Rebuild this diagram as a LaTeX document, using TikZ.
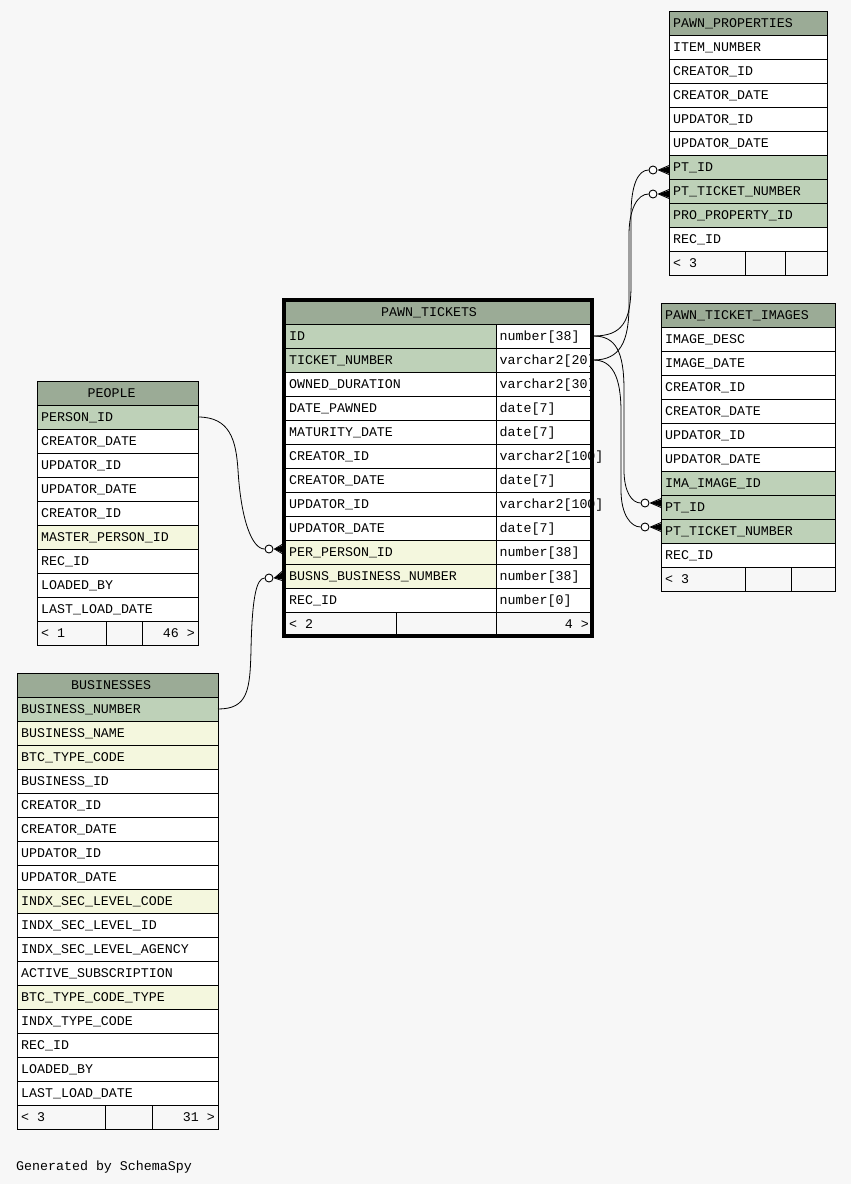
\documentclass[tikz,border=0pt]{standalone}
\usepackage{fontspec}
\usetikzlibrary{calc}
\newfontfamily\erdfont{Liberation Mono}
\definecolor{bgc}{HTML}{F7F7F7}
\definecolor{headc}{HTML}{9BAB96}
\definecolor{pkc}{HTML}{BED1B8}
\definecolor{idxc}{HTML}{F4F7DE}
\definecolor{whc}{HTML}{FFFFFF}
\newcommand\tcellx[7]{%
  \draw[gridline,fill=#5] (#2,#4) rectangle (#3,{#4+24});
  \node[txt] (#1) at ({#2+#7},{#4+16.6}) {#6};}
\newcommand\tcell[6]{\tcellx{#1}{#2}{#3}{#4}{#5}{#6}{4}}
\newcommand\crowfoot[2]{%
  \fill ($(#1.east)+(1,0)$) -- ($(#2)+(0,-3.5)$) -- ($(#2)+(0,3.5)$) -- cycle;
  \draw[conn] ($(#1.east)+(1,0)$) -- ($(#2)+(0,-4.5)$);
  \draw[conn] ($(#1.east)+(1,0)$) -- ($(#2)+(0,4.5)$);}
\begin{document}
\begin{tikzpicture}[x=1pt,y=-1pt,
  gridline/.style={draw=black,line width=1pt},
  txt/.style={anchor=base west,inner sep=0pt,font=\erdfont\fontsize{13.3}{15}\selectfont},
  txtr/.style={anchor=base east,inner sep=0pt,font=\erdfont\fontsize{13.3}{15}\selectfont},
  conn/.style={draw=black,line width=0.8pt},
  odot/.style={circle,draw=black,fill=white,line width=0.9pt,minimum size=8pt,inner sep=0pt}]
\useasboundingbox[fill=bgc] (0,0) rectangle (851,1184);

% ---------------- PAWN_PROPERTIES ----------------
\draw[gridline,fill=headc] (669,11) rectangle (827,35);
\node[txt] (pp-h) at (673,27.6) {PAWN\_PROPERTIES};
\foreach [count=\i from 0] \f/\t in {whc/ITEM\_NUMBER,whc/CREATOR\_ID,whc/CREATOR\_DATE,whc/UPDATOR\_ID,whc/UPDATOR\_DATE,pkc/PT\_ID,pkc/PT\_TICKET\_NUMBER,pkc/PRO\_PROPERTY\_ID,whc/REC\_ID}
  {\tcell{pp-\i}{669}{827}{35+24*\i}{\f}{\t}}
\draw[gridline,fill=bgc] (669,251) rectangle (745,275);
\draw[gridline,fill=bgc] (745,251) rectangle (785,275);
\draw[gridline,fill=bgc] (785,251) rectangle (827,275);
\node[txt] (pp-f) at (673,267.6) {< 3};

% ---------------- PAWN_TICKET_IMAGES ----------------
\draw[gridline,fill=headc] (661,303) rectangle (835,327);
\node[txt] (pti-h) at (665,319.6) {PAWN\_TICKET\_IMAGES};
\foreach [count=\i from 0] \f/\t in {whc/IMAGE\_DESC,whc/IMAGE\_DATE,whc/CREATOR\_ID,whc/CREATOR\_DATE,whc/UPDATOR\_ID,whc/UPDATOR\_DATE,pkc/IMA\_IMAGE\_ID,pkc/PT\_ID,pkc/PT\_TICKET\_NUMBER,whc/REC\_ID}
  {\tcell{pti-\i}{661}{835}{327+24*\i}{\f}{\t}}
\draw[gridline,fill=bgc] (661,567) rectangle (745,591);
\draw[gridline,fill=bgc] (745,567) rectangle (791,591);
\draw[gridline,fill=bgc] (791,567) rectangle (835,591);
\node[txt] (pti-f) at (665,583.6) {< 3};

% ---------------- PEOPLE ----------------
\draw[gridline,fill=headc] (37,381) rectangle (198,405);
\node[txt] (pe-h) at (87.5,397.6) {PEOPLE};
\foreach [count=\i from 0] \f/\t in {pkc/PERSON\_ID,whc/CREATOR\_DATE,whc/UPDATOR\_ID,whc/UPDATOR\_DATE,whc/CREATOR\_ID,idxc/MASTER\_PERSON\_ID,whc/REC\_ID,whc/LOADED\_BY,whc/LAST\_LOAD\_DATE}
  {\tcell{pe-\i}{37}{198}{405+24*\i}{\f}{\t}}
\draw[gridline,fill=bgc] (37,621) rectangle (106,645);
\draw[gridline,fill=bgc] (106,621) rectangle (142,645);
\draw[gridline,fill=bgc] (142,621) rectangle (198,645);
\node[txt] (pe-f1) at (41,637.6) {< 1};
\node[txtr] (pe-f2) at (195,637.6) {46 >};

% ---------------- BUSINESSES ----------------
\draw[gridline,fill=headc] (17,673) rectangle (218,697);
\node[txt] (bu-h) at (71,689.6) {BUSINESSES};
\foreach [count=\i from 0] \f/\t in {pkc/BUSINESS\_NUMBER,idxc/BUSINESS\_NAME,idxc/BTC\_TYPE\_CODE,whc/BUSINESS\_ID,whc/CREATOR\_ID,whc/CREATOR\_DATE,whc/UPDATOR\_ID,whc/UPDATOR\_DATE,idxc/INDX\_SEC\_LEVEL\_CODE,whc/INDX\_SEC\_LEVEL\_ID,whc/INDX\_SEC\_LEVEL\_AGENCY,whc/ACTIVE\_SUBSCRIPTION,idxc/BTC\_TYPE\_CODE\_TYPE,whc/INDX\_TYPE\_CODE,whc/REC\_ID,whc/LOADED\_BY,whc/LAST\_LOAD\_DATE}
  {\tcell{bu-\i}{17}{218}{697+24*\i}{\f}{\t}}
\draw[gridline,fill=bgc] (17,1105) rectangle (105,1129);
\draw[gridline,fill=bgc] (105,1105) rectangle (152,1129);
\draw[gridline,fill=bgc] (152,1105) rectangle (218,1129);
\node[txt] (bu-f1) at (21,1121.6) {< 3};
\node[txtr] (bu-f2) at (215,1121.6) {31 >};

% ---------------- PAWN_TICKETS ----------------
\draw[gridline,fill=headc] (284,300) rectangle (592,324);
\node[txt] (pt-h) at (381,316.6) {PAWN\_TICKETS};
\foreach [count=\i from 0] \f/\t/\ty in {pkc/ID/number[38],pkc/TICKET\_NUMBER/varchar2[20],whc/OWNED\_DURATION/varchar2[30],whc/DATE\_PAWNED/date[7],whc/MATURITY\_DATE/date[7],whc/CREATOR\_ID/varchar2[100],whc/CREATOR\_DATE/date[7],whc/UPDATOR\_ID/varchar2[100],whc/UPDATOR\_DATE/date[7],idxc/PER\_PERSON\_ID/number[38],idxc/BUSNS\_BUSINESS\_NUMBER/number[38],whc/REC\_ID/number[0]}
  {\tcellx{pt-\i}{284}{496}{324+24*\i}{\f}{\t}{5}
   \tcellx{pt-t\i}{496}{592}{324+24*\i}{whc}{\ty}{3.5}}
\draw[gridline,fill=bgc] (284,612) rectangle (396,636);
\draw[gridline,fill=bgc] (396,612) rectangle (496,636);
\draw[gridline,fill=bgc] (496,612) rectangle (592,636);
\node[txt] (pt-f1) at (289,628.6) {< 2};
\node[txtr] (pt-f2) at (589,628.6) {4 >};
\draw[black,line width=3.5pt] (284,300) rectangle (592,636);

% ---------------- connector end points ----------------
\coordinate (ptIDr) at (593.5,336);
\coordinate (ptTNr) at (593.5,360);
\coordinate (ptPERl) at (282,549);
\coordinate (ptBUSl) at (282,576);
\coordinate (pePKr) at (198,417);
\coordinate (buPKr) at (218,709);
\coordinate (ppPTID) at (669,170);
\coordinate (ppPTTN) at (669,194);
\coordinate (ptiPTID) at (661,503);
\coordinate (ptiPTTN) at (661,527);

\node[odot] (o1) at (269,549) {};
\node[odot] (o2) at (269,578) {};
\node[odot] (o3) at (653,170) {};
\node[odot] (o4) at (653,194) {};
\node[odot] (o5) at (645,503) {};
\node[odot] (o6) at (645,527) {};

% PEOPLE -> PAWN_TICKETS
\draw[conn] (pePKr) .. controls (230,417) and (236,440) .. (238,470)
  .. controls (241,520) and (252,549) .. (o1.west);
% BUSINESSES -> PAWN_TICKETS
\draw[conn] (buPKr) .. controls (248,709) and (250,690) .. (251,650)
  .. controls (252,600) and (256,578) .. (o2.west);
% PAWN_TICKETS -> PAWN_PROPERTIES
\draw[conn] (ptIDr) .. controls (622,336) and (631,322) .. (631,285)
  -- (631,215) .. controls (631,185) and (638,170) .. (o3.west);
\draw[conn] (ptTNr) .. controls (620,360) and (629,342) .. (629,305)
  -- (629,235) .. controls (629,208) and (638,194) .. (o4.west);
% PAWN_TICKETS -> PAWN_TICKET_IMAGES
\draw[conn] (ptIDr) .. controls (616,336) and (624,352) .. (624,390)
  -- (624,470) .. controls (624,492) and (632,503) .. (o5.west);
\draw[conn] (ptTNr) .. controls (612,360) and (621,376) .. (621,412)
  -- (621,490) .. controls (621,515) and (631,527) .. (o6.west);

\crowfoot{o1}{ptPERl}
\crowfoot{o2}{ptBUSl}
\crowfoot{o3}{ppPTID}
\crowfoot{o4}{ppPTTN}
\crowfoot{o5}{ptiPTID}
\crowfoot{o6}{ptiPTTN}

\node[txt] (gen) at (16,1170) {Generated by SchemaSpy};
\end{tikzpicture}
\end{document}
